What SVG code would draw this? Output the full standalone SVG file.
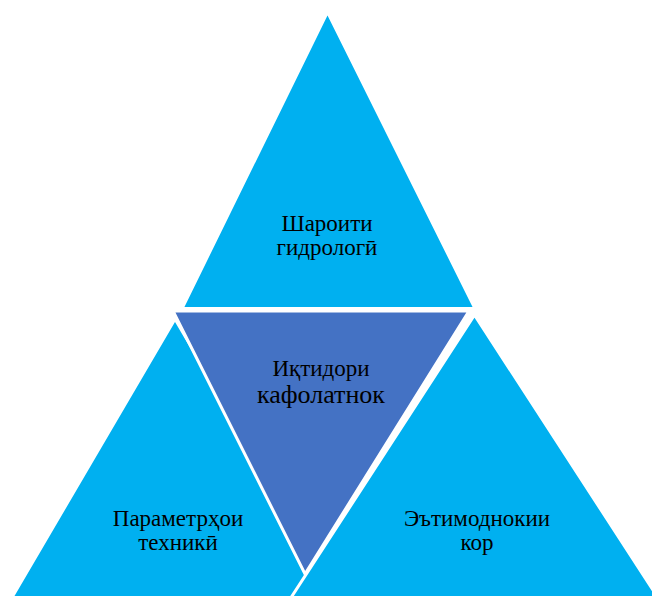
<svg xmlns="http://www.w3.org/2000/svg" width="652" height="596" viewBox="0 0 652 596">
<style>
.outer{fill:#00B0F0;stroke:#FFFFFF;stroke-width:3;stroke-linejoin:miter}
.inner{fill:#4472C4;stroke:#FFFFFF;stroke-width:3;stroke-linejoin:miter}
.lbl{font-family:"Liberation Serif","Times New Roman",serif;font-size:23px;fill:#000000;text-anchor:middle}
.big{font-size:26px}
</style>
<rect width="652" height="596" fill="#FFFFFF"/>
<g id="top">
<polygon class="outer" points="327.5,12 182,308.5 475,308.5"/>
<text class="lbl" x="327" y="231">Шароити</text>
<text class="lbl" x="327" y="255">гидрологӣ</text>
</g>
<g id="left">
<polygon class="outer" points="175,319 -13,640 363,640"/>
<text class="lbl" x="178" y="526">Параметрҳои</text>
<text class="lbl" x="178" y="550">техникӣ</text>
</g>
<g id="right">
<polygon class="outer" points="474.5,315 263.5,640 685.5,640"/>
<text class="lbl" x="477" y="526">Эътимоднокии</text>
<text class="lbl" x="477" y="550">кор</text>
</g>
<g id="center">
<polygon class="inner" points="173,311 469,311 305,574"/>
<text class="lbl" x="321" y="376">Иқтидори</text>
<text class="lbl big" x="321" y="403">кафолатнок</text>
</g>
<g id="connectors"></g>
</svg>
